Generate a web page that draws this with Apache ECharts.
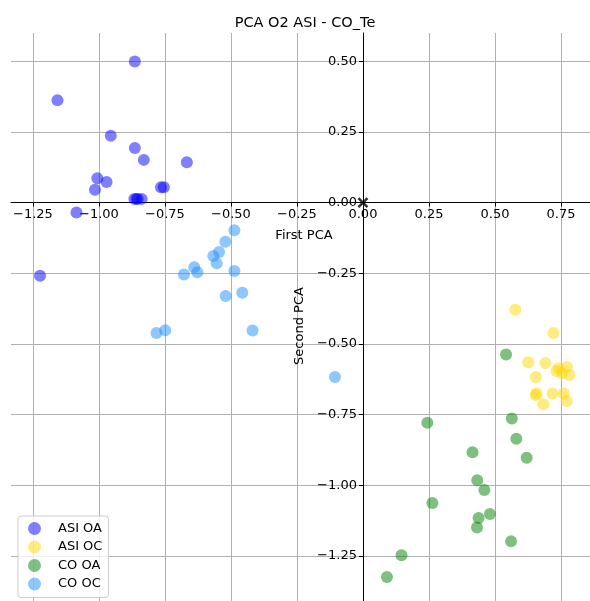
<!DOCTYPE html>
<html>
<head>
<meta charset="utf-8">
<script src="https://cdn.jsdelivr.net/npm/echarts@6/dist/echarts.min.js"></script>
<style>
  html, body { margin: 0; padding: 0; background: #fff; }
  #chart { width: 590px; height: 601px; }
</style>
</head>
<body>
<div id="chart"></div>
<script>
// PCA scores (first, second component) per group
const asiOA = [
  [-0.864, 0.499], [-1.157, 0.362], [-0.955, 0.236], [-0.864, 0.193],
  [-0.830, 0.151], [-0.667, 0.143], [-1.006, 0.086], [-0.971, 0.073],
  [-1.015, 0.045], [-0.765, 0.054], [-0.754, 0.054], [-0.866, 0.013],
  [-0.858, 0.013], [-0.853, 0.013], [-0.838, 0.013], [-1.085, -0.035],
  [-1.223, -0.259]
];
const asiOC = [
  [0.577, -0.379], [0.721, -0.462], [0.626, -0.565], [0.691, -0.568],
  [0.742, -0.586], [0.773, -0.582], [0.754, -0.604], [0.782, -0.610],
  [0.733, -0.596], [0.655, -0.617], [0.658, -0.676], [0.654, -0.681],
  [0.718, -0.676], [0.761, -0.676], [0.772, -0.702], [0.683, -0.714]
];
const coOA = [
  [0.542, -0.538], [0.564, -0.764], [0.244, -0.779], [0.581, -0.836],
  [0.415, -0.884], [0.620, -0.903], [0.433, -0.983], [0.460, -1.017],
  [0.263, -1.063], [0.481, -1.102], [0.438, -1.116], [0.432, -1.150],
  [0.561, -1.199], [0.146, -1.248], [0.091, -1.325]
];
const coOC = [
  [-0.487, -0.098], [-0.521, -0.139], [-0.545, -0.175], [-0.567, -0.189],
  [-0.554, -0.215], [-0.639, -0.229], [-0.627, -0.247], [-0.678, -0.255],
  [-0.487, -0.242], [-0.520, -0.331], [-0.457, -0.319], [-0.782, -0.462],
  [-0.749, -0.452], [-0.418, -0.453], [-0.106, -0.617]
];
const origin = [[0, 0]];

const xTicks = [-1.25, -1.00, -0.75, -0.50, -0.25, 0.00, 0.25, 0.50, 0.75];
const yTicks = [-1.25, -1.00, -0.75, -0.50, -0.25, 0.00, 0.25, 0.50];

const groupNames = ['ASI OA', 'ASI OC', 'CO OA', 'CO OC'];
const groupData = [asiOA, asiOC, coOA, coOC];
const groupColors = ['#0000ff', '#ffd700', '#008000', '#1e90ff'];

const FONT = 'DejaVu Sans';
const FS = 13;
const fmt = v => v.toFixed(2).replace('-', '\u2212');

const W = 590, H = 601;
const GRID = { left: 11, right: 0, top: 33, bottom: 0 };

const chart = echarts.init(document.getElementById('chart'), null, { renderer: 'canvas' });

const series = groupNames.map((name, i) => ({
  name: name,
  type: 'scatter',
  data: groupData[i],
  symbol: 'circle',
  symbolSize: 12,
  itemStyle: { color: groupColors[i], opacity: 0.5 },
  emphasis: { disabled: true },
  z: 3 + i
}));

// black cross marking the origin
series.push({
  name: 'origin',
  type: 'scatter',
  data: origin,
  symbol: 'path://M0,0 L10,10 M10,0 L0,10',
  symbolSize: 9,
  itemStyle: { color: 'none', borderColor: '#000', borderWidth: 2.5 },
  emphasis: { disabled: true },
  z: 10
});

const axisCommon = {
  type: 'value',
  axisLine: { onZero: false, lineStyle: { color: '#000', width: 1 } },
  splitLine: { show: true, lineStyle: { color: '#b0b0b0', width: 1 } },
  axisLabel: { color: '#000', fontFamily: FONT, fontSize: FS, margin: 6, formatter: fmt, hideOverlap: false },
  axisTick: { show: true, length: 4, lineStyle: { color: '#000' } }
};

chart.setOption({
  animation: false,
  backgroundColor: '#fff',
  title: {
    text: 'PCA O2 ASI - CO_Te',
    left: 300,
    textAlign: 'center',
    top: 11,
    textStyle: { fontFamily: FONT, fontSize: 14.5, fontWeight: 'normal', color: '#000' }
  },
  legend: {
    data: groupNames,
    orient: 'vertical',
    left: 18,
    top: 516,
    icon: 'circle',
    itemWidth: 13,
    itemHeight: 13,
    itemGap: 5.5,
    padding: [6, 6, 7, 10],
    borderColor: '#cccccc',
    borderWidth: 1,
    borderRadius: 3,
    backgroundColor: 'rgba(255,255,255,0.8)',
    textStyle: { fontFamily: FONT, fontSize: FS, color: '#000', padding: [0, 0, 0, 12] }
  },
  grid: Object.assign({ containLabel: false, outerBoundsMode: 'none' }, GRID),
  xAxis: Object.assign({}, axisCommon, {
    position: 'bottom',
    min: -1.333, max: 0.86,
    axisLabel: Object.assign({}, axisCommon.axisLabel, { customValues: xTicks }),
    axisTick: Object.assign({}, axisCommon.axisTick, { customValues: xTicks })
  }),
  yAxis: Object.assign({}, axisCommon, {
    position: 'left',
    min: -1.41, max: 0.60,
    axisLabel: Object.assign({}, axisCommon.axisLabel, { customValues: yTicks }),
    axisTick: Object.assign({}, axisCommon.axisTick, { customValues: yTicks })
  }),
  series: series
});

// Move both spines (with their ticks and labels) so they cross at the origin
const o = chart.convertToPixel({ gridIndex: 0 }, [0, 0]);
chart.setOption({
  xAxis: { offset: o[1] - (H - GRID.bottom) },
  yAxis: { offset: GRID.left - o[0] },
  graphic: [
    {
      type: 'text', x: 304, y: o[1] + 33,
      style: { text: 'First PCA', fontFamily: FONT, fontSize: FS, fill: '#000', align: 'center', verticalAlign: 'middle' }
    },
    {
      type: 'text', x: 300, y: 326, rotation: Math.PI / 2,
      style: { text: 'Second PCA', fontFamily: FONT, fontSize: FS, fill: '#000', align: 'center', verticalAlign: 'middle' }
    }
  ]
});
</script>
</body>
</html>
